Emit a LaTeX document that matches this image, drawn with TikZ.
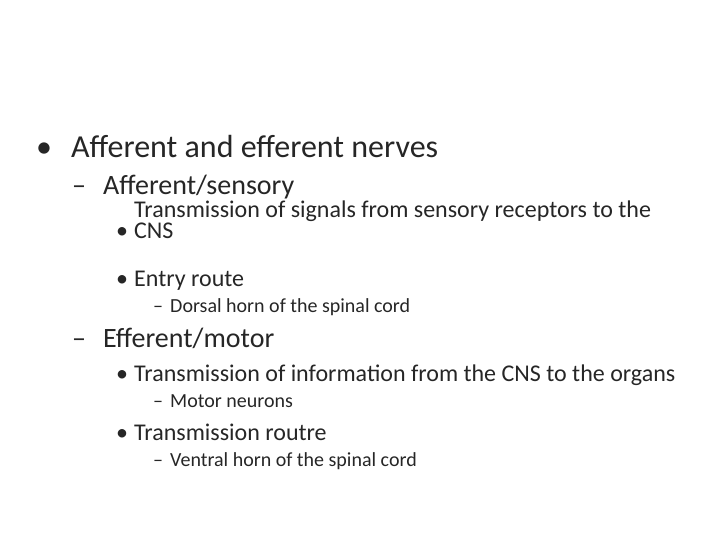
\documentclass[tikz,border=0pt]{standalone}
\usepackage{fontspec}
\setmainfont{Carlito}
\begin{document}
\begin{tikzpicture}[x=1pt,y=-1pt,
  t/.style={anchor=base west,inner sep=0pt,text=black!85},
  la/.style={t,font=\fontsize{32}{34}\selectfont},
  lb/.style={t,font=\fontsize{28}{30}\selectfont},
  lc/.style={t,font=\fontsize{24}{21}\selectfont},
  ld/.style={t,font=\fontsize{20}{22}\selectfont}]
\useasboundingbox (0,0) rectangle (720,540);
\node[la] (b1) at (36,158) {•};
\node[la] (t1) at (71,158) {Afferent and efferent nerves};
\node[lb] (d1) at (72,195) {–};
\node[lb] (t2) at (103,195) {Afferent/sensory};
\node[lc] (b2) at (116,239) {•};
\node[lc,align=left] (t3) at (134,239) {Transmission of signals from sensory receptors to the\\CNS};
\node[lc] (b3) at (116,286) {•};
\node[lc] (t4) at (134,286) {Entry route};
\node[ld] (d2) at (153,312) {–};
\node[ld] (t5) at (170,312) {Dorsal horn of the spinal cord};
\node[lb] (d3) at (72,347) {–};
\node[lb] (t6) at (103,347) {Efferent/motor};
\node[lc] (b4) at (116,381) {•};
\node[lc] (t7) at (134,381) {Transmission of information from the CNS to the organs};
\node[ld] (d4) at (153,407) {–};
\node[ld] (t8) at (170,407) {Motor neurons};
\node[lc] (b5) at (116,440) {•};
\node[lc] (t9) at (134,440) {Transmission routre};
\node[ld] (d5) at (153,466) {–};
\node[ld] (t10) at (170,466) {Ventral horn of the spinal cord};
\end{tikzpicture}
\end{document}
